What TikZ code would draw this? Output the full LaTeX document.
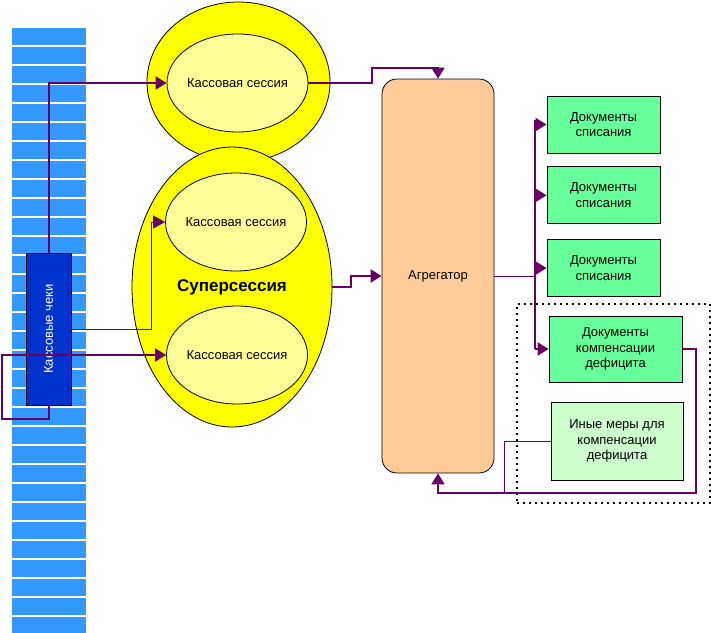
\documentclass[tikz,border=0pt]{standalone}
\usepackage{fontspec}
\setmainfont{Liberation Sans}
\usepackage{graphicx}
\usetikzlibrary{shapes.geometric, arrows.meta, positioning}
\definecolor{stripblue}{HTML}{3399FF}
\definecolor{checksblue}{HTML}{0033CC}
\definecolor{ringyellow}{HTML}{FFFF00}
\definecolor{sessyellow}{HTML}{FFFF99}
\definecolor{aggorange}{HTML}{FFCC99}
\definecolor{docgreen}{HTML}{66FF99}
\definecolor{othergreen}{HTML}{CCFFCC}
\definecolor{flowpurple}{HTML}{660066}
\tikzset{
  sessionring/.style={
    ellipse, draw, line width=0.8pt, fill=ringyellow, inner sep=0pt
  },
  session/.style={
    ellipse, draw, line width=0.8pt, fill=sessyellow, inner xsep=-4pt, inner ysep=0pt,
    minimum width=141pt, minimum height=98pt
  },
  checksbox/.style={
    rectangle, draw, line width=0.8pt, fill=checksblue, text=white,
    minimum width=45pt, minimum height=152pt, inner sep=0pt
  },
  aggblock/.style={
    rectangle, draw, line width=0.8pt, rounded corners=15pt, fill=aggorange,
    minimum width=112pt, minimum height=394pt
  },
  docblock/.style={
    rectangle, draw, line width=0.8pt, fill=docgreen, align=center,
    minimum width=113pt, minimum height=57pt, inner sep=0pt
  },
  groupframe/.style={
    rectangle, draw, line width=2pt, dash pattern=on 2pt off 4pt,
    minimum width=193pt, minimum height=199pt
  },
  flowarrow/.style={
    draw=flowpurple, line width=2pt, -{Triangle[length=11pt, width=13pt]}
  },
  thinarrow/.style={
    draw=flowpurple, line width=1pt, -{Triangle[length=12pt, width=13pt]}
  },
  thinline/.style={
    draw=flowpurple, line width=1pt
  },
  thickline/.style={
    draw=flowpurple, line width=2pt
  }
}
\begin{document}
\begin{tikzpicture}[x=1pt, y=-1pt, font=\fontsize{13}{15.5}\selectfont]
  \useasboundingbox (0,0) rectangle (711,632);
  % receipt strip
  \foreach \i in {0,...,31}
    \fill[stripblue] (12,28+19*\i) rectangle (86,45+19*\i);

  \node[sessionring, minimum width=183pt, minimum height=160pt] (ring) at (238.5,82) {};
  \node[sessionring, minimum width=200pt, minimum height=280pt,
        font=\fontsize{17}{20}\selectfont\bfseries] (super) at (232,287) {Суперсессия};
  \node[session] (sess1) at (237.5,83) {Кассовая сессия};
  \node[session] (sess2) at (236,222) {Кассовая сессия};
  \node[session] (sess3) at (237,355) {Кассовая сессия};
  \node[checksbox] (checks) at (48.5,329) {\rotatebox{90}{Кассовые чеки}};

  \node[aggblock] (agg) at (438,276) {Агрегатор};
  \node[docblock] (doc1) at (603.5,124.5) {Документы\\списания};
  \node[docblock, below=13pt of doc1] (doc2) {Документы\\списания};
  \node[docblock, below=15pt of doc2] (doc3) {Документы\\списания};
  \node[groupframe] (group) at (613.5,403.5) {};
  \node[docblock, minimum width=133pt, minimum height=66pt] (comp) at (615.5,349) {Документы\\компенсации\\дефицита};
  \node[docblock, fill=othergreen, minimum width=132pt, minimum height=78pt] (other) at (617,441) {Иные меры для\\компенсации\\дефицита};

  \coordinate (bus) at (535,120);
  \coordinate (join) at (504,493);

  \draw[flowarrow] (checks.north) |- (sess1.west);
  \draw[thinarrow] (checks.east) -| ([xshift=-14pt]sess2.west) -- (sess2.west);
  \draw[flowarrow] (checks.south) -- ++(0,14) -| (2,355) -- (sess3.west);
  \draw[flowarrow] (sess1.east) -- ++(64,0) |- ([yshift=11pt]agg.north) -- (agg.north);
  \draw[flowarrow] (super.east) -- ++(19,0) |- (agg.west);
  \draw[thinline] (agg.east) -- (bus |- agg.east);
  \draw[thickline] (bus) -- (bus |- comp.west);
  \foreach \d in {doc1, doc2, doc3, comp}
    \draw[flowarrow] (bus |- \d.west) -- (\d.west);
  \draw[flowarrow] (comp.east) -| ++(14,144) -| (agg.south);
  \draw[thinline] (other.west) -| (join);
\end{tikzpicture}
\end{document}
